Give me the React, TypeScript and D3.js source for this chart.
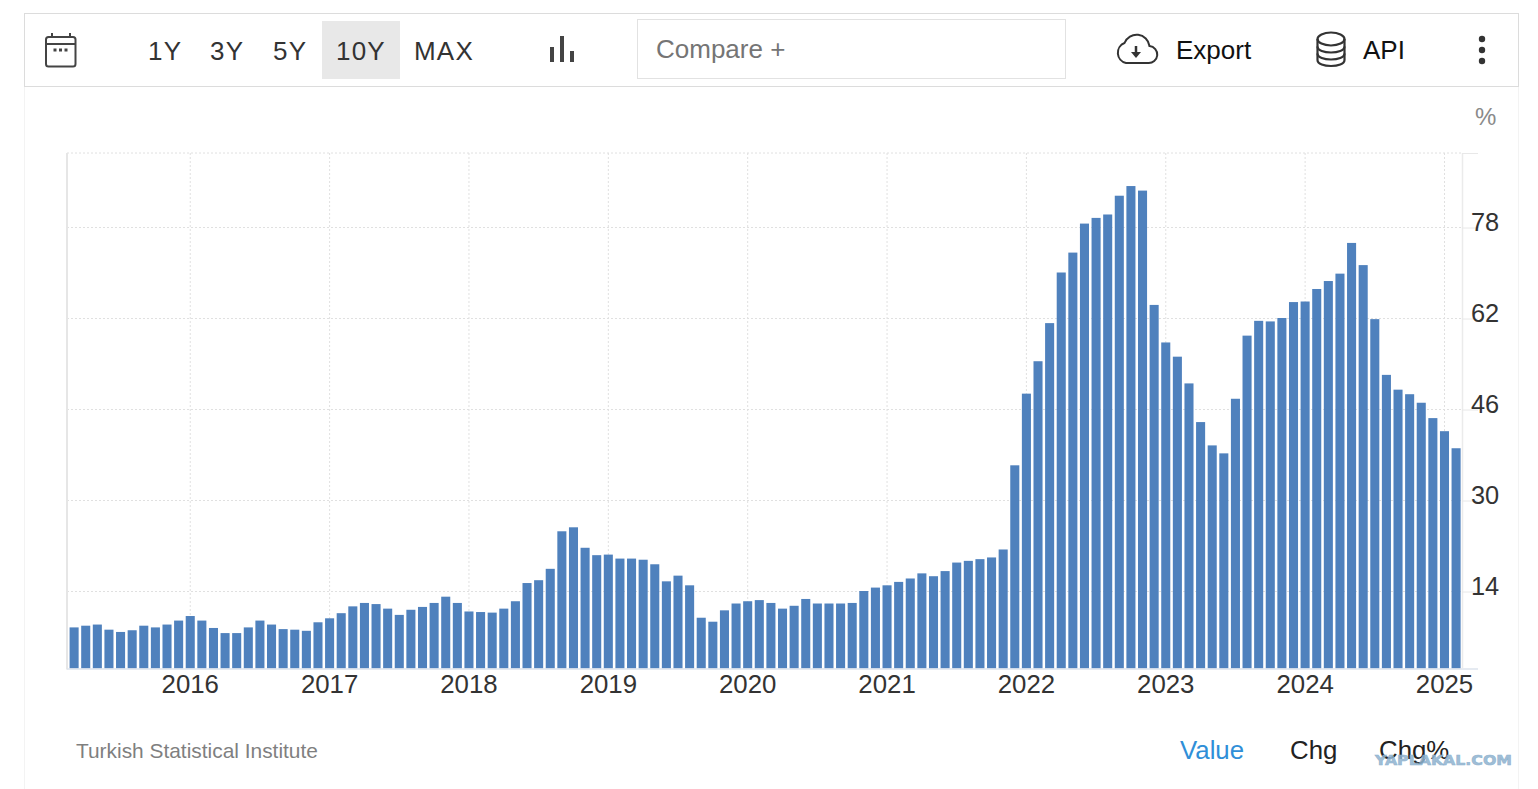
import { useEffect, useRef } from "react";
import * as d3 from "d3";

const months = d3.timeMonth.range(new Date(2015, 2, 1), new Date(2025, 2, 1));

const inflation = [
    7.6, 7.9, 8.1, 7.2, 6.8, 7.1, 7.9, 7.6, 8.1, 8.8,
    9.6, 8.8, 7.5, 6.6, 6.6, 7.6, 8.8, 8.1, 7.3, 7.2, 7.0, 8.5,
    9.2, 10.1, 11.3, 11.9, 11.7, 10.9, 9.8, 10.7, 11.2, 11.9, 13.0, 11.9,
    10.4, 10.3, 10.2, 10.9, 12.2, 15.4, 15.9, 17.9, 24.5, 25.2, 21.6, 20.3,
    20.4, 19.7, 19.7, 19.5, 18.7, 15.7, 16.7, 15.0, 9.3, 8.6, 10.6, 11.8,
    12.2, 12.4, 11.9, 10.9, 11.4, 12.6, 11.8, 11.8, 11.8, 11.9, 14.0, 14.6,
    15.0, 15.6, 16.2, 17.1, 16.6, 17.5, 19.0, 19.3, 19.6, 19.9, 21.3, 36.1,
    48.7, 54.4, 61.1, 70.0, 73.5, 78.6, 79.6, 80.2, 83.5, 85.2, 84.4, 64.3,
    57.7, 55.2, 50.5, 43.7, 39.6, 38.2, 47.8, 58.9, 61.5, 61.4, 62.0, 64.8,
    64.9, 67.1, 68.5, 69.8, 75.2, 71.3, 61.8, 52.0, 49.4, 48.6, 47.1, 44.4,
    42.1, 39.1,
];

const yTicks = [14, 30, 46, 62, 78];
const rangeButtons = ["1Y", "3Y", "5Y", "10Y", "MAX"];
const rangeButtonX = [148, 210, 273, 336, 414];
const footerTabs = ["Value", "Chg", "Chg%"];
const footerTabX = [1180, 1290, 1379];

const WIDTH = 1538;
const HEIGHT = 789;
const FONT = "'Liberation Sans', Arial, sans-serif";

export default function App() {
    const svgRef = useRef<SVGSVGElement>(null);

    useEffect(() => {
        if (!svgRef.current) return;
        const svg = d3.select(svgRef.current);
        svg.selectAll("*").remove();

        const plotLeft = 67;
        const plotRight = 1462;
        const plotTop = 153;
        const plotBottom = 668.5;

        const x = d3
            .scaleBand<Date>()
            .domain(months)
            .range([68.3, 1461.9])
            .paddingInner(0.22)
            .paddingOuter(0.11);
        const y = d3.scaleLinear().domain([14, 78]).range([591, 227]);
        const yBase = y.invert(plotBottom);
        const center = (d: Date) => (x(d) ?? 0) + x.bandwidth() / 2;

        const janMonths = months.filter((d) => d.getMonth() === 0);

        // panel borders
        svg.append("line").attr("x1", 24.5).attr("x2", 24.5).attr("y1", 86).attr("y2", HEIGHT).attr("stroke", "#f3f3f3");
        svg.append("line").attr("x1", 1518.5).attr("x2", 1518.5).attr("y1", 86).attr("y2", HEIGHT).attr("stroke", "#f3f3f3");
        svg.append("rect")
            .attr("x", 24.5).attr("y", 13.5).attr("width", 1494).attr("height", 73)
            .attr("fill", "#fff").attr("stroke", "#dcdcdc").attr("stroke-width", 1);

        // toolbar
        const bar = svg.append("g").style("font-family", FONT);
        bar.append("rect").attr("x", 322).attr("y", 21).attr("width", 78).attr("height", 58).attr("fill", "#e8e8e8");
        bar.selectAll("text.range")
            .data(rangeButtons)
            .enter()
            .append("text")
            .attr("class", "range")
            .attr("x", (_, i) => rangeButtonX[i])
            .attr("y", 60)
            .attr("font-size", 26)
            .attr("letter-spacing", 1.2)
            .attr("fill", "#333")
            .text((d) => d);

        // calendar icon
        const cal = bar.append("g").attr("fill", "none").attr("stroke", "#444").attr("stroke-width", 2);
        cal.append("rect").attr("x", 46).attr("y", 37).attr("width", 29.5).attr("height", 29.5).attr("rx", 2.5);
        cal.append("line").attr("x1", 46).attr("x2", 75.5).attr("y1", 44).attr("y2", 44);
        cal.append("line").attr("x1", 52).attr("x2", 52).attr("y1", 33).attr("y2", 37);
        cal.append("line").attr("x1", 70).attr("x2", 70).attr("y1", 33).attr("y2", 37);
        [55, 60.5, 66].forEach((cx) => {
            bar.append("rect").attr("x", cx - 1.5).attr("y", 48.5).attr("width", 3).attr("height", 3).attr("fill", "#444");
        });

        // chart type icon
        [[552, 47, 62], [562, 36, 62], [572, 51, 62]].forEach(([lx, y1, y2]) => {
            bar.append("line").attr("x1", lx).attr("x2", lx).attr("y1", y1).attr("y2", y2)
                .attr("stroke", "#444").attr("stroke-width", 4);
        });

        // compare box
        bar.append("rect").attr("x", 637.5).attr("y", 19.5).attr("width", 428).attr("height", 59)
            .attr("fill", "#fff").attr("stroke", "#e2e2e2");
        bar.append("text").attr("x", 656).attr("y", 58).attr("font-size", 26).attr("fill", "#757575").text("Compare +");

        // export icon
        bar.append("path")
            .attr("d", "M1126 63 h22 a8.5 8.5 0 0 0 1.5 -17 a13 13 0 0 0 -25 -3 a10.5 10.5 0 0 0 1.5 20 Z")
            .attr("fill", "none").attr("stroke", "#333").attr("stroke-width", 2);
        bar.append("path").attr("d", "M1136 46 v8").attr("stroke", "#333").attr("stroke-width", 2.5);
        bar.append("path").attr("d", "M1131 52 h10 l-5 6 Z").attr("fill", "#333");
        bar.append("text").attr("x", 1176).attr("y", 59).attr("font-size", 26).attr("fill", "#111").text("Export");

        // api icon
        const db = bar.append("g").attr("fill", "none").attr("stroke", "#333").attr("stroke-width", 2.2);
        db.append("ellipse").attr("cx", 1331).attr("cy", 39).attr("rx", 13.5).attr("ry", 6.5);
        db.append("path").attr("d", "M1317.5 39 v21 c0 8 27 8 27 0 v-21");
        db.append("path").attr("d", "M1317.5 46.5 c0 8 27 8 27 0");
        db.append("path").attr("d", "M1317.5 53.5 c0 8 27 8 27 0");
        bar.append("text").attr("x", 1363).attr("y", 59).attr("font-size", 26).attr("fill", "#111").text("API");

        // more menu
        [39, 50, 61].forEach((cy) => {
            bar.append("circle").attr("cx", 1482).attr("cy", cy).attr("r", 3.2).attr("fill", "#333");
        });

        // grid
        const grid = svg.append("g").attr("stroke", "#e0e0e0").attr("stroke-dasharray", "2 2").attr("fill", "none");
        grid.selectAll("line.h")
            .data([...yTicks])
            .enter()
            .append("line")
            .attr("class", "h")
            .attr("x1", plotLeft).attr("x2", plotRight)
            .attr("y1", (d) => y(d) + 0.5).attr("y2", (d) => y(d) + 0.5);
        grid.append("line").attr("x1", plotLeft).attr("x2", plotRight).attr("y1", plotTop).attr("y2", plotTop);
        grid.selectAll("line.v")
            .data(janMonths)
            .enter()
            .append("line")
            .attr("class", "v")
            .attr("x1", center).attr("x2", center)
            .attr("y1", plotTop).attr("y2", plotBottom);

        // bars
        svg.append("g")
            .selectAll("rect")
            .data(inflation)
            .enter()
            .append("rect")
            .attr("x", (_, i) => x(months[i]) ?? 0)
            .attr("width", x.bandwidth())
            .attr("y", (d) => y(d))
            .attr("height", (d) => y(yBase) - y(d))
            .attr("fill", "#4f81bd");

        // plot frame
        svg.append("line").attr("x1", plotLeft).attr("x2", plotLeft).attr("y1", plotTop).attr("y2", plotBottom + 1)
            .attr("stroke", "#e6e6e6").attr("stroke-width", 2);
        svg.append("line").attr("x1", plotLeft).attr("x2", 1478).attr("y1", plotBottom + 0.5).attr("y2", plotBottom + 0.5)
            .attr("stroke", "#dde3ec").attr("stroke-width", 1.5);
        svg.append("line").attr("x1", plotRight + 0.5).attr("x2", plotRight + 0.5).attr("y1", plotTop).attr("y2", plotBottom)
            .attr("stroke", "#ebebeb").attr("stroke-width", 1.5);
        svg.append("line").attr("x1", plotRight).attr("x2", 1478).attr("y1", plotTop + 0.5).attr("y2", plotTop + 0.5)
            .attr("stroke", "#e8e8e8");

        // axes
        const xAxis = svg.append("g")
            .attr("transform", `translate(0,${plotBottom})`)
            .call(
                d3.axisBottom(x)
                    .tickValues(janMonths)
                    .tickSize(0)
                    .tickPadding(6)
                    .tickFormat((d) => d3.timeFormat("%Y")(d as Date)),
            );
        xAxis.select(".domain").remove();
        xAxis.selectAll("text").attr("font-size", 25.8).attr("font-family", FONT).attr("fill", "#333");

        const yAxis = svg.append("g")
            .attr("transform", `translate(${plotRight},0)`)
            .call(d3.axisRight(y).tickValues(yTicks).tickSize(16).tickPadding(-7).tickFormat((d) => String(d)));
        yAxis.select(".domain").remove();
        yAxis.selectAll("line").attr("stroke", "#e8e8e8").attr("y1", 0.5).attr("y2", 0.5);
        yAxis.selectAll("text")
            .attr("font-size", 25.4)
            .attr("font-family", FONT)
            .attr("fill", "#333")
            .attr("dy", "0.12em");

        svg.append("text").attr("x", 1475).attr("y", 125).attr("font-size", 24).attr("font-family", FONT)
            .attr("fill", "#8a8a8a").text("%");

        // footer
        svg.append("text").attr("x", 76).attr("y", 758).attr("font-size", 20.9).attr("font-family", FONT)
            .attr("fill", "#7f7f7f").text("Turkish Statistical Institute");
        svg.append("g")
            .selectAll("text")
            .data(footerTabs)
            .enter()
            .append("text")
            .attr("x", (_, i) => footerTabX[i])
            .attr("y", 759)
            .attr("font-size", 25.8)
            .attr("font-family", FONT)
            .attr("fill", (_, i) => (i === 0 ? "#2f8fd8" : "#222"))
            .text((d) => d);

        // watermark
        svg.append("text").attr("x", 1375).attr("y", 765).attr("font-size", 14.5)
            .attr("font-family", "'DejaVu Sans', sans-serif").attr("font-weight", "bold")
            .attr("textLength", 137).attr("lengthAdjust", "spacingAndGlyphs")
            .attr("fill", "#8fb3cf").attr("fill-opacity", 0.85)
            .attr("stroke", "#8fb3cf").attr("stroke-width", 0.6).text("YAPLAKAL.COM");
    }, []);

    return (
        <svg
            ref={svgRef}
            width={WIDTH}
            height={HEIGHT}
            viewBox={`0 0 ${WIDTH} ${HEIGHT}`}
            style={{ position: "absolute", left: 0, top: 0, background: "#fff" }}
        />
    );
}
